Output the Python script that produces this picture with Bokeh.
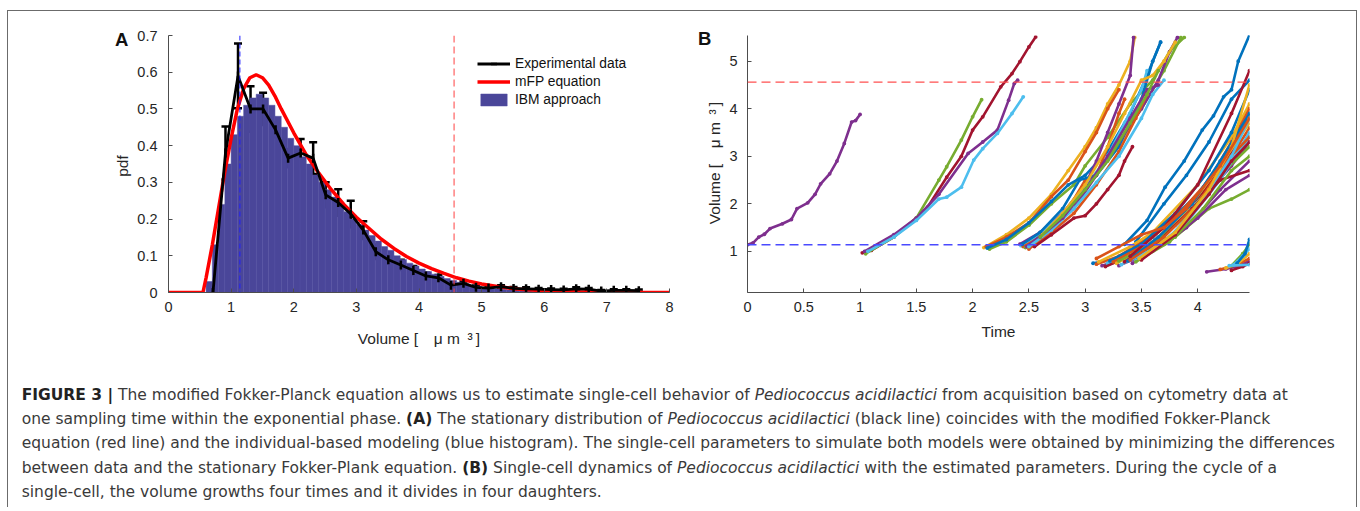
from math import pi
from bokeh.plotting import figure
from bokeh.models import (Range1d, FixedTicker, Whisker, ColumnDataSource, Legend,
                          LegendItem, Span, Div, Spacer, TeeHead)
from bokeh.layouts import row, column
from bokeh.embed import file_html
from bokeh.resources import INLINE

# ---------------- data: panel A ----------------
V_BIRTH = 1.14
V_DIV = 4.56

hist_centers = [0.65, 0.75, 0.85, 0.95, 1.05, 1.15, 1.25, 1.35, 1.45, 1.55, 1.65, 1.75,
                1.85, 1.95, 2.05, 2.15, 2.25, 2.35, 2.45, 2.55, 2.65, 2.75, 2.85, 2.95,
                3.05, 3.15, 3.25, 3.35, 3.45, 3.55, 3.65, 3.75, 3.85, 3.95, 4.05, 4.15,
                4.25, 4.35, 4.45, 4.55, 4.65, 4.75, 4.85, 4.95, 5.05, 5.15, 5.25, 5.35,
                5.45, 5.55, 5.65, 5.75, 5.85, 5.95]
hist_heights = [0.03, 0.13, 0.24, 0.35, 0.43, 0.48, 0.51, 0.53, 0.54, 0.53, 0.51, 0.48,
                0.45, 0.42, 0.40, 0.37, 0.35, 0.32, 0.30, 0.28, 0.26, 0.24, 0.22, 0.20,
                0.185, 0.17, 0.155, 0.14, 0.125, 0.115, 0.10, 0.09, 0.08, 0.072, 0.064, 0.057,
                0.05, 0.044, 0.038, 0.033, 0.028, 0.024, 0.02, 0.017, 0.014, 0.012, 0.01, 0.008,
                0.007, 0.006, 0.005, 0.004, 0.003, 0.002]

mfp_x = [0, 0.5, 0.55, 0.6, 0.7, 0.8, 0.9, 1.0, 1.1, 1.2, 1.3, 1.4, 1.5, 1.6, 1.7, 1.8,
         2.0, 2.2, 2.4, 2.6, 2.8, 3.0, 3.2, 3.4, 3.6, 3.8, 4.0, 4.2, 4.4, 4.6, 4.8, 5.0,
         5.3, 5.6, 6.0, 6.5, 7.0, 8.0]
mfp_y = [0, 0, 0.0, 0.04, 0.13, 0.23, 0.33, 0.42, 0.50, 0.555, 0.585, 0.593, 0.585, 0.565,
         0.535, 0.5, 0.435, 0.375, 0.325, 0.28, 0.24, 0.205, 0.175, 0.145, 0.12, 0.098,
         0.08, 0.065, 0.052, 0.04, 0.031, 0.023, 0.015, 0.009, 0.005, 0.002, 0.001, 0.0]

exp_x = [0.71, 0.91, 1.11, 1.31, 1.51, 1.71, 1.91, 2.11, 2.31, 2.51, 2.71, 2.91, 3.11,
         3.31, 3.51, 3.71, 3.91, 4.11, 4.31, 4.51, 4.71, 4.91, 5.11, 5.31, 5.51, 5.71,
         5.91, 6.11, 6.31, 6.51, 6.71, 6.91, 7.11, 7.31, 7.51]
exp_y = [0.0, 0.38, 0.59, 0.50, 0.50, 0.443, 0.366, 0.38, 0.366, 0.266, 0.245, 0.214,
         0.17, 0.111, 0.089, 0.075, 0.06, 0.045, 0.04, 0.02, 0.025, 0.014, 0.012, 0.016,
         0.011, 0.01, 0.009, 0.008, 0.007, 0.01, 0.009, 0.004, 0.006, 0.006, 0.005]
exp_err = [0.004, 0.072, 0.088, 0.062, 0.044, 0.02, 0.025, 0.038, 0.043, 0.034, 0.036,
           0.036, 0.024, 0.02, 0.011, 0.014, 0.012, 0.009, 0.008, 0.007, 0.005, 0.005,
           0.004, 0.004, 0.004, 0.004, 0.003, 0.003, 0.003, 0.004, 0.003, 0.003, 0.003,
           0.003, 0.003]

A_xticks = [0, 1, 2, 3, 4, 5, 6, 7, 8]
A_yticks = [0, 0.1, 0.2, 0.3, 0.4, 0.5, 0.6, 0.7]
A_ylabels = ["0", "0.1", "0.2", "0.3", "0.4", "0.5", "0.6", "0.7"]

# ---------------- data: panel B (time, volume) ----------------
B_xticks = [0, 0.5, 1, 1.5, 2, 2.5, 3, 3.5, 4]
B_xlabels = ["0", "0.5", "1", "1.5", "2", "2.5", "3", "3.5", "4"]
B_yticks = [1, 2, 3, 4, 5]

gen0 = [("purple", [0, 0.05, 0.1, 0.15, 0.2, 0.31, 0.39, 0.44, 0.535, 0.6, 0.65, 0.73, 0.795,
                    0.86, 0.925, 0.96, 1.0],
                   [1.14, 1.18, 1.3, 1.36, 1.48, 1.58, 1.67, 1.9, 2.02, 2.2, 2.42, 2.63, 2.9,
                    3.27, 3.72, 3.75, 3.88])]

gen1 = [
    ("darkred", [1.02, 1.1, 1.3, 1.5, 1.6, 1.77, 1.9, 2.0, 2.09, 2.25, 2.35, 2.42, 2.5, 2.56],
                [0.97, 1.02, 1.3, 1.7, 1.93, 2.56, 3.0, 3.55, 3.83, 4.46, 4.74, 4.99, 5.3, 5.51]),
    ("green", [1.05, 1.3, 1.5, 1.7, 1.77, 1.9, 2.0, 2.08],
              [0.95, 1.3, 1.7, 2.5, 2.78, 3.34, 3.83, 4.19]),
    ("purple", [1.04, 1.3, 1.5, 1.7, 1.96, 2.09, 2.22, 2.32, 2.37, 2.4],
               [1.0, 1.35, 1.7, 2.2, 3.06, 3.3, 3.55, 4.18, 4.53, 4.6]),
    ("lightblue", [1.07, 1.3, 1.5, 1.7, 1.77, 1.9, 2.01, 2.09, 2.22, 2.35, 2.45],
                  [1.0, 1.3, 1.65, 2.1, 2.14, 2.35, 2.92, 3.16, 3.48, 3.9, 4.25]),
]

gen2 = [
    ("yellow", [2.1, 2.3, 2.5, 2.7, 2.85, 3.0, 3.1, 3.2, 3.3, 3.4, 3.44],
               [1.08, 1.35, 1.7, 2.2, 2.7, 3.2, 3.6, 4.1, 4.5, 5.0, 5.5]),
    ("orange", [2.12, 2.3, 2.5, 2.7, 2.85, 3.0, 3.1, 3.2, 3.3],
               [1.1, 1.3, 1.6, 2.15, 2.5, 3.1, 3.5, 4.0, 4.4]),
    ("green", [2.15, 2.3, 2.5, 2.7, 2.9, 3.0, 3.2, 3.4, 3.6, 3.75, 3.88],
              [1.05, 1.2, 1.55, 2.0, 2.4, 2.8, 3.4, 4.1, 4.6, 5.2, 5.5]),
    ("blue", [2.13, 2.3, 2.5, 2.7, 2.85, 3.0, 3.2, 3.4, 3.55, 3.67],
             [1.07, 1.25, 1.6, 2.05, 2.4, 2.6, 3.1, 3.9, 4.7, 5.4]),
    ("purple", [2.42, 2.6, 2.8, 3.0, 3.1, 3.2, 3.3, 3.4, 3.43],
               [1.15, 1.4, 1.8, 2.4, 2.9, 3.5, 4.1, 4.7, 5.5]),
    ("lightblue", [2.43, 2.6, 2.8, 3.0, 3.2, 3.35, 3.5, 3.55],
                  [1.12, 1.35, 1.8, 2.35, 3.0, 3.7, 4.4, 4.8]),
    ("orange", [2.45, 2.6, 2.8, 3.0, 3.1, 3.2, 3.3, 3.35],
               [1.1, 1.3, 1.7, 2.5, 2.6, 3.2, 3.9, 4.2]),
    ("blue", [2.44, 2.6, 2.8, 2.95, 3.1, 3.3, 3.5, 3.6, 3.67],
             [1.15, 1.4, 1.9, 2.5, 2.6, 3.2, 4.2, 5.0, 5.4]),
    ("green", [2.47, 2.7, 2.9, 3.1, 3.3, 3.5, 3.7, 3.85],
              [1.08, 1.5, 2.0, 2.6, 3.3, 4.0, 4.8, 5.5]),
    ("purple", [2.48, 2.7, 2.9, 3.1, 3.3, 3.5, 3.65, 3.75, 3.82],
               [1.1, 1.5, 1.9, 2.6, 3.3, 4.0, 4.6, 5.2, 5.5]),
    ("orange", [2.5, 2.7, 2.9, 3.1, 3.3, 3.45, 3.55],
               [1.05, 1.4, 1.8, 2.4, 3.1, 3.8, 4.3]),
    ("lightblue", [2.5, 2.7, 2.9, 3.1, 3.3, 3.5, 3.6, 3.7],
                  [1.1, 1.45, 1.9, 2.45, 3.0, 3.8, 4.3, 4.6]),
    ("darkred", [2.55, 2.7, 2.9, 3.0, 3.1, 3.2, 3.3, 3.35, 3.42],
                [1.1, 1.35, 1.7, 1.75, 2.0, 2.3, 2.6, 2.9, 3.2]),
    ("purple", [2.6, 2.8, 3.0, 3.2, 3.4, 3.55, 3.65],
               [1.3, 1.7, 2.3, 3.0, 3.8, 4.4, 4.5]),
    ("yellow", [2.62, 2.8, 3.0, 3.2, 3.35, 3.5, 3.6, 3.7, 3.8],
               [1.35, 1.8, 2.4, 3.2, 3.9, 4.6, 4.7, 5.0, 5.4]),
    ("green", [2.6, 2.8, 3.0, 3.2, 3.4, 3.55, 3.65],
              [1.3, 1.75, 2.3, 2.9, 3.7, 4.3, 4.8]),
]

gen3 = [
    ("blue", [3.35, 3.55, 3.71, 3.88, 4.04, 4.14, 4.23, 4.3, 4.36, 4.46],
             [1.15, 1.65, 2.35, 2.9, 3.55, 3.85, 4.25, 4.4, 5.0, 5.55]),
    ("blue", [3.45, 3.7, 3.9, 4.1, 4.3, 4.46], [1.2, 2.0, 2.6, 3.3, 4.2, 4.6]),
    ("blue", [3.07, 3.3, 3.6, 4.0, 4.3, 4.46], [0.75, 0.85, 1.3, 2.2, 3.2, 3.9]),
    ("orange", [3.1, 3.3, 3.6, 4.0, 4.3, 4.46], [0.73, 0.9, 1.35, 2.1, 3.0, 3.6]),
    ("yellow", [3.12, 3.4, 3.6, 4.0, 4.3, 4.46], [0.78, 1.1, 1.4, 2.4, 3.4, 4.1]),
    ("purple", [3.15, 3.4, 3.7, 4.0, 4.3, 4.46], [0.7, 0.9, 1.35, 2.0, 2.8, 3.3]),
    ("green", [3.2, 3.5, 3.8, 4.1, 4.3, 4.46], [0.72, 0.95, 1.3, 1.9, 2.1, 2.3]),
    ("lightblue", [3.2, 3.5, 3.8, 4.1, 4.3, 4.46], [0.75, 1.05, 1.55, 2.3, 2.9, 3.4]),
    ("darkred", [3.18, 3.5, 3.8, 4.1, 4.3, 4.46], [0.68, 1.0, 1.6, 2.4, 3.1, 3.8]),
    ("blue", [3.22, 3.5, 3.8, 4.1, 4.3, 4.46], [0.8, 1.15, 1.8, 2.7, 3.5, 4.4]),
    ("orange", [3.25, 3.5, 3.8, 4.1, 4.3, 4.46], [0.78, 1.1, 1.7, 2.5, 3.3, 4.0]),
    ("yellow", [3.28, 3.6, 3.9, 4.2, 4.46], [0.75, 1.2, 1.85, 2.8, 3.7]),
    ("purple", [3.3, 3.6, 3.9, 4.2, 4.46], [0.7, 1.0, 1.5, 2.3, 2.9]),
    ("green", [3.3, 3.6, 3.9, 4.2, 4.46], [0.8, 1.15, 1.75, 2.6, 3.2]),
    ("lightblue", [3.32, 3.6, 3.9, 4.2, 4.46], [0.72, 1.05, 1.6, 2.5, 3.5]),
    ("darkred", [3.35, 3.65, 3.95, 4.2, 4.46], [0.78, 1.2, 1.9, 2.5, 2.7]),
    ("blue", [3.38, 3.65, 3.95, 4.2, 4.46], [0.8, 1.3, 2.0, 2.9, 3.9]),
    ("orange", [3.4, 3.7, 4.0, 4.25, 4.46], [0.82, 1.3, 2.0, 2.9, 3.4]),
    ("purple", [3.42, 3.7, 4.0, 4.25, 4.46], [0.75, 1.15, 1.7, 2.3, 2.6]),
    ("lightblue", [3.45, 3.75, 4.05, 4.3, 4.46], [0.8, 1.3, 2.1, 3.0, 3.8]),
    ("green", [3.45, 3.75, 4.05, 4.3, 4.46], [0.78, 1.2, 1.9, 2.7, 3.0]),
    ("darkred", [3.5, 3.8, 4.1, 4.3, 4.46], [0.82, 1.35, 2.2, 2.9, 3.3]),
    ("darkred", [3.4, 3.7, 4.0, 4.3, 4.46], [0.9, 1.5, 2.4, 3.9, 4.8]),
    ("yellow", [3.48, 3.8, 4.1, 4.3, 4.46], [0.85, 1.4, 2.3, 3.2, 4.5]),
    ("orange", [3.1, 3.3, 3.5, 3.7, 3.9, 4.2, 4.46], [0.85, 1.1, 1.35, 1.5, 1.9, 2.8, 3.8]),
]

gen4 = [
    ("purple", [4.08, 4.25, 4.35, 4.46], [0.57, 0.63, 0.68, 0.8]),
    ("orange", [4.2, 4.35, 4.46], [0.62, 0.72, 0.85]),
    ("yellow", [4.25, 4.36, 4.46], [0.65, 0.75, 0.95]),
    ("green", [4.3, 4.4, 4.46], [0.7, 0.95, 1.15]),
    ("lightblue", [4.32, 4.4, 4.46], [0.72, 0.9, 1.05]),
    ("blue", [4.35, 4.42, 4.46], [0.75, 0.95, 1.25]),
    ("darkred", [4.3, 4.4, 4.46], [0.6, 0.68, 0.75]),
    ("lightblue", [4.28, 4.46], [0.7, 0.72]),
]

COLORS = {"blue": "#0072BD", "orange": "#D95319", "yellow": "#EDB120", "purple": "#7E2F8E",
          "green": "#77AC30", "lightblue": "#4DBEEE", "darkred": "#A2142F"}

VOL_LABEL = "Volume [\u2002\u2002\u03bc m\u2002\u00b3\u2009]"

# ---------------- styling helpers ----------------
AX_COL = "#4d4d4d"
TXT_COL = "#262626"
FONT = "Liberation Sans"


def style_axes(p, xticks, yticks, xover=None, yover=None, standoff_x=9, standoff_y=11):
    p.grid.visible = False
    for ax in (p.xaxis[0], p.yaxis[0]):
        ax.axis_line_color = AX_COL
        ax.axis_line_width = 1
        ax.major_tick_line_color = AX_COL
        ax.major_tick_in = 4
        ax.major_tick_out = 0
        ax.minor_tick_line_color = None
        ax.major_label_text_font = FONT
        ax.major_label_text_font_size = "14.5px"
        ax.major_label_text_color = TXT_COL
        ax.axis_label_text_font = FONT
        ax.axis_label_text_font_size = "15.5px"
        ax.axis_label_text_font_style = "normal"
        ax.axis_label_text_color = TXT_COL
    p.xaxis[0].ticker = FixedTicker(ticks=xticks)
    p.yaxis[0].ticker = FixedTicker(ticks=yticks)
    p.xaxis[0].major_label_standoff = standoff_x
    p.yaxis[0].major_label_standoff = standoff_y
    if xover:
        p.xaxis[0].major_label_overrides = xover
    if yover:
        p.yaxis[0].major_label_overrides = yover


def side_div(width, letter, letter_left, letter_top, lab_text, lab_cx, lab_cy):
    html = (
        f"<div style=\"position:relative;width:{width}px;height:341px;"
        f"font-family:'Liberation Sans';\">"
        f"<span style=\"position:absolute;left:{letter_left}px;top:{letter_top}px;"
        f"font-size:18.5px;font-weight:bold;line-height:1;color:#111;\">{letter}</span>"
        f"<span style=\"position:absolute;left:{lab_cx}px;top:{lab_cy}px;"
        f"transform:translate(-50%,-50%) rotate(-90deg);font-size:15.5px;line-height:1;"
        f"white-space:nowrap;color:{TXT_COL};\">{lab_text}</span>"
        f"</div>"
    )
    return Div(text=html, width=width, height=341, margin=0)


# ---------------- panel A ----------------
pA = figure(frame_width=501, frame_height=257, min_border_left=35, min_border_right=21,
            min_border_top=24, min_border_bottom=60,
            x_range=Range1d(0, 8), y_range=Range1d(0, 0.7),
            output_backend="svg", toolbar_location=None,
            outline_line_color=None, background_fill_color="white", border_fill_color="white")
style_axes(pA, A_xticks, A_yticks, yover={t: l for t, l in zip(A_yticks, A_ylabels)})
pA.xaxis[0].axis_label = VOL_LABEL
pA.xaxis[0].axis_label_standoff = 15

r_hist = pA.vbar(x=hist_centers, top=hist_heights, width=0.1, bottom=0,
                 fill_color="#4a4699", line_color="#524ea2", line_width=0.5)
r_mfp = pA.line(mfp_x, mfp_y, line_color="#ff0000", line_width=3.5)

exp_src = ColumnDataSource(dict(x=exp_x, y=exp_y,
                                upper=[y + e for y, e in zip(exp_y, exp_err)],
                                lower=[y - e for y, e in zip(exp_y, exp_err)]))
r_exp = pA.line("x", "y", source=exp_src, line_color="black", line_width=2.8)
r_bar = pA.scatter("x", "y", source=exp_src, marker="dash", angle=pi / 2, size=9,
                   line_color="black", line_width=2.5)
pA.add_layout(Whisker(source=exp_src, base="x", upper="upper", lower="lower",
                      line_color="black", line_width=2.5,
                      upper_head=TeeHead(size=8, line_width=2.5, line_color="black"),
                      lower_head=TeeHead(size=8, line_width=2.5, line_color="black")))

pA.add_layout(Span(location=V_BIRTH, dimension="height", line_color="#1f1fff",
                   line_width=1, line_dash="5 3"))
pA.add_layout(Span(location=V_DIV, dimension="height", line_color="#ff4040",
                   line_width=1, line_dash="7 4"))

legA = Legend(items=[LegendItem(label="Experimental data", renderers=[r_exp, r_bar]),
                     LegendItem(label="mFP equation", renderers=[r_mfp]),
                     LegendItem(label="IBM approach", renderers=[r_hist])],
              location=(309, 185.5), border_line_color=None, background_fill_alpha=0,
              label_text_font=FONT, label_text_font_size="13.8px", label_text_color="#111111",
              glyph_width=33, glyph_height=15, label_standoff=5, spacing=3, padding=5,
              margin=0)
pA.add_layout(legA)

# ---------------- panel B ----------------
pB = figure(frame_width=502, frame_height=257, min_border_left=22, min_border_right=107,
            min_border_top=24, min_border_bottom=60,
            x_range=Range1d(0, 4.46), y_range=Range1d(0.135, 5.54),
            output_backend="svg", toolbar_location=None,
            outline_line_color=None, background_fill_color="white", border_fill_color="white")
style_axes(pB, B_xticks, B_yticks, xover={t: l for t, l in zip(B_xticks, B_xlabels)},
           standoff_y=10)
pB.xaxis[0].axis_label = "Time"
pB.xaxis[0].axis_label_standoff = 8

for gen in (gen0, gen1, gen2, gen3, gen4):
    for cname, ts, vs in gen:
        c = COLORS[cname]
        pB.line(ts, vs, line_color=c, line_width=2.6)
        pB.scatter(ts, vs, size=3.8, fill_color=c, line_color=None)

pB.add_layout(Span(location=V_DIV, dimension="width", line_color="#ff5050",
                   line_width=1.4, line_dash="9 5"))
pB.add_layout(Span(location=V_BIRTH, dimension="width", line_color="#4a4aff",
                   line_width=1.4, line_dash="9 5"))

# side label columns (panel letters and rotated y labels)
divA = side_div(125, "A", 107, 20, "pdf", 115, 154.8)
divB = side_div(35, "B", 8, 18.7, VOL_LABEL, 25, 152.3)

# ---------------- caption ----------------
caption_html = (
    "<div style=\"font-family:'DejaVu Sans'; font-size:15.5px; line-height:24.3px; "
    "color:#3a3a3a; white-space:nowrap; padding:30.8px 0 0 13.7px; margin:0;\">"
    "<b style='color:#222'>FIGURE 3 |</b> The modified Fokker-Planck equation allows us to estimate "
    "single-cell behavior of <i>Pediococcus acidilactici</i> from acquisition based on cytometry data at<br>"
    "one sampling time within the exponential phase. <b style='color:#222'>(A)</b> The stationary "
    "distribution of <i>Pediococcus acidilactici</i> (black line) coincides with the modified Fokker-Planck<br>"
    "equation (red line) and the individual-based modeling (blue histogram). The single-cell parameters "
    "to simulate both models were obtained by minimizing the differences<br>"
    "between data and the stationary Fokker-Plank equation. <b style='color:#222'>(B)</b> Single-cell "
    "dynamics of <i>Pediococcus acidilactici</i> with the estimated parameters. During the cycle of a<br>"
    "single-cell, the volume growths four times and it divides in four daughters."
    "</div>"
)
cap = Div(text=caption_html, width=1348, height=155, margin=0)

framed = column(row(divA, pA, divB, pB), cap,
                styles={"border-top": "1px solid #6b6b6b", "border-left": "1px solid #6b6b6b",
                        "border-right": "1px solid #6b6b6b"})
layout = column(Spacer(width=1357, height=10, margin=0),
                row(Spacer(width=7, height=10, margin=0), framed))

open("out.html", "w").write(file_html(layout, INLINE))
